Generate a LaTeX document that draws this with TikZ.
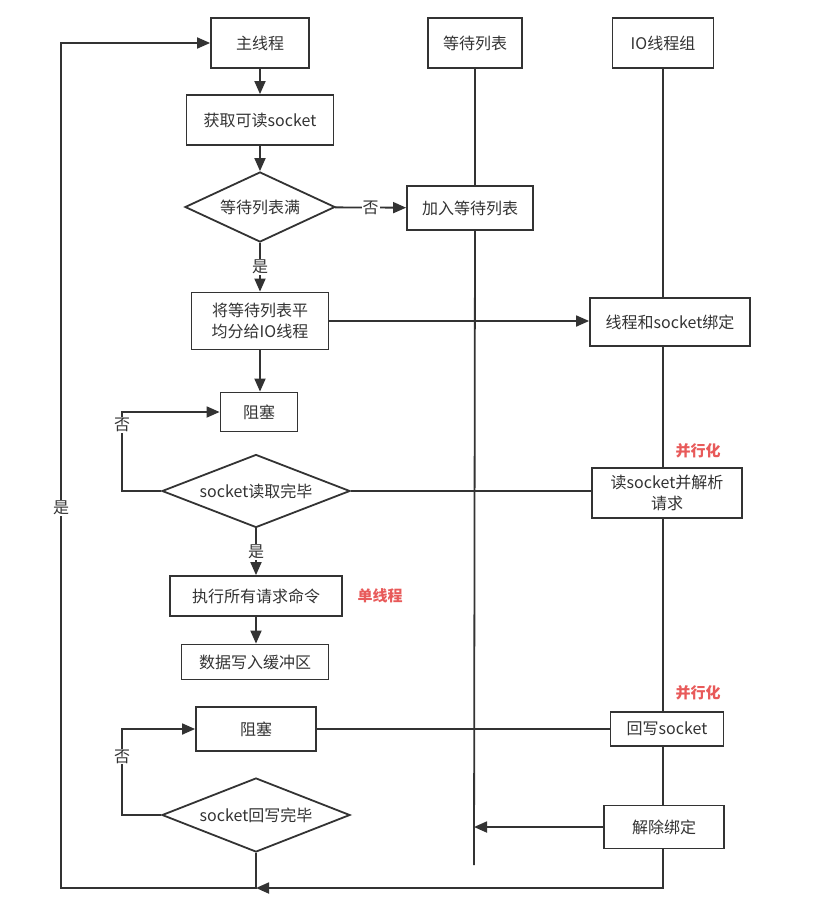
\documentclass[tikz,border=0pt]{standalone}
\usepackage{fontspec}
\setmainfont{Noto Sans CJK SC}
\usetikzlibrary{shapes.geometric,arrows.meta}
\definecolor{linegray}{HTML}{333333}
\definecolor{tagred}{HTML}{E85A5A}

\begin{document}
\begin{tikzpicture}[x=1pt,y=-1pt,line width=1.8pt,draw=linegray,text=linegray,
    >={Triangle[length=13pt,width=11pt]},font=\fontsize{16}{21}\selectfont]
    \tikzstyle{box}=[rectangle,draw=linegray,fill=white,align=center,inner sep=2pt]
    \tikzstyle{test}=[diamond,draw=linegray,fill=white,aspect=2.5,inner sep=1pt]
    \tikzstyle{tag}=[text=tagred,font=\fontsize{15}{18}\selectfont\bfseries]
    \tikzstyle{lbl}=[fill=white,inner sep=1pt]
    \useasboundingbox (0,0) rectangle (835,924);
    % column heads
    \node[box,minimum width=98,minimum height=50] (main) at (260,43) {主线程};
    \node[box,minimum width=94,minimum height=50] (wait) at (475,43) {等待列表};
    \node[box,minimum width=101,minimum height=50] (io) at (663,43) {IO线程组};
    % main thread
    \node[box,minimum width=147,minimum height=50] (get) at (260,120) {获取可读socket};
    \node[test,minimum width=150,minimum height=70] (full) at (260,207) {等待列表满};
    \node[box,minimum width=126,minimum height=44] (add) at (470,208) {加入等待列表};
    \node[box,minimum width=137,minimum height=57] (split) at (260,321) {将等待列表平\\均分给IO线程};
    \node[box,minimum width=160,minimum height=48] (bind) at (670,322) {线程和socket绑定};
    \node[box,minimum width=77,minimum height=39] (wait1) at (259,412) {阻塞};
    \node[test,minimum width=188,minimum height=73] (rdone) at (256,491) {socket读取完毕};
    \node[box,minimum width=150,minimum height=50] (read) at (667,493) {读socket并解析\\请求};
    \node[box,minimum width=172,minimum height=40] (exec) at (256,596) {执行所有请求命令};
    \node[box,minimum width=147,minimum height=35] (buf) at (255,662) {数据写入缓冲区};
    \node[box,minimum width=120,minimum height=44] (wait2) at (256,729) {阻塞};
    \node[box,minimum width=113,minimum height=34] (wback) at (667,729) {回写socket};
    \node[test,minimum width=188,minimum height=74] (wdone) at (256,815) {socket回写完毕};
    \node[box,minimum width=120,minimum height=43] (unbind) at (664,827) {解除绑定};
    % red tags
    \node[tag] (par1) at (698,451) {并行化};
    \node[tag] (par2) at (698,693) {并行化};
    \node[tag] (single) at (380,596) {单线程};
    \coordinate (wend) at (474,865);
    \coordinate (bl) at (61,888);
    \coordinate (br) at (663,888);

    % life lines
    \draw (wait.south) -- (wait.south |- add.north);
    \draw (wait.south |- add.south) -- (wend);
    \draw (io.south) -- (io.south |- bind.north);
    \draw (io.south |- bind.south) -- (io.south |- read.north);
    \draw (io.south |- read.south) -- (io.south |- wback.north);
    \draw (io.south |- wback.south) -- (io.south |- unbind.north);

    \path (main) edge[->] (get);
    \path (get) edge[->] (full);
    \path (full) edge[->] node[lbl] {否} (add);
    \path (full) edge[->] node[lbl] {是} (split);
    \draw[->] (split.east) -- (split.east -| bind.west);
    \draw[->] (split.south) -- (split.south |- wait1.north);
    \draw[->] (rdone.west) -- ++(-39,0) |- node[lbl,pos=0.42] {否} (wait1.west);
    \draw (rdone.east) -- (rdone.east -| read.west);
    \draw[->] (rdone.south) -- node[lbl] {是} (rdone.south |- exec.north);
    \draw[->] (exec.south) -- (exec.south |- buf.north);
    \draw (wait2.east) -- (wait2.east -| wback.west);
    \draw[->] (wdone.west) -- ++(-39,0) |- node[lbl,pos=0.34] {否} (wait2.west);
    \draw[->] (unbind.west) -- (unbind.west -| wend);
    % back to main thread
    \draw[->] (io.south |- unbind.south) -- (br) -- (wdone.south |- br);
    \draw[->] (wdone.south) -- (wdone.south |- bl) -- (bl) |- node[lbl,pos=0.225] {是} (main.west);
\end{tikzpicture}
\end{document}
